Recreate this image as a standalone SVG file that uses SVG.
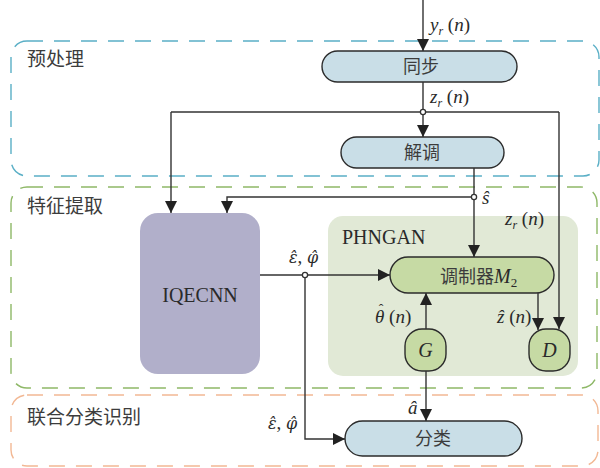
<svg xmlns="http://www.w3.org/2000/svg" width="600" height="468" viewBox="0 0 600 468">
<style>
.grp{fill:none;stroke-width:1.4;stroke-dasharray:16 11}
.cn{font-family:"Noto Sans CJK SC","Noto Sans",sans-serif;fill:#3c3c3c}
.m{font-family:"Liberation Serif","DejaVu Serif",serif;fill:#2a2a2a}
.g{font-family:"DejaVu Serif",serif}
.i{font-style:italic}
.node{stroke:#2b2b2b;stroke-width:1.4}
.blue{fill:#C9DEE7}
.green{fill:#C6DAA4}
.ln{fill:none;stroke:#333;stroke-width:1.4}
.jn{fill:#fff;stroke:#333;stroke-width:1.3}
</style>
<defs>
<marker id="ah" markerUnits="userSpaceOnUse" markerWidth="12" markerHeight="12" refX="12" refY="6" orient="auto">
<path d="M0,0 L12,6 L0,12 z" fill="#222"/>
</marker>
</defs>

<g id="stage-preprocess">
<rect class="grp" x="11" y="41" width="588" height="135" rx="16" stroke="#5AAFC6"/>
<text class="cn" x="27" y="66" font-size="19">预处理</text>
</g>
<g id="stage-feature">
<rect class="grp" x="11" y="187" width="586" height="201" rx="16" stroke="#8EB867"/>
<text class="cn" x="27" y="213" font-size="19">特征提取</text>
</g>
<g id="stage-classify">
<rect class="grp" x="11" y="395" width="587" height="71" rx="16" stroke="#F2B894"/>
<text class="cn" x="27" y="424" font-size="19">联合分类识别</text>
</g>

<g id="phngan">
<rect x="328" y="216" width="250" height="160" rx="15" fill="#E1E9D6"/>
<text class="m" x="342" y="244" font-size="20">PHNGAN</text>
</g>

<g id="node-sync">
<rect class="node blue" x="322" y="51" width="195" height="31" rx="15.5"/>
<text class="cn" x="421" y="73" font-size="18" text-anchor="middle">同步</text>
</g>
<g id="node-demod">
<rect class="node blue" x="341" y="137" width="163" height="31" rx="15.5"/>
<text class="cn" x="422" y="159" font-size="18" text-anchor="middle">解调</text>
</g>
<g id="node-iqecnn">
<rect x="140" y="213" width="120" height="161" rx="18" fill="#B1AFCA"/>
<text class="m" x="200" y="302" font-size="20" text-anchor="middle">IQECNN</text>
</g>
<g id="node-modulator">
<rect class="node green" x="390" y="257" width="164" height="36" rx="18"/>
<text x="440" y="283"><tspan class="cn" font-size="18">调制器</tspan><tspan class="m i" font-size="20">M</tspan><tspan class="m" font-size="13" dy="4">2</tspan></text>
</g>
<g id="node-g">
<rect class="node green" x="405" y="329" width="41" height="42" rx="17"/>
<text class="m i" x="425.5" y="357" font-size="20" text-anchor="middle">G</text>
</g>
<g id="node-d">
<rect class="node green" x="529" y="329" width="41" height="42" rx="17"/>
<text class="m i" x="549.5" y="357" font-size="20" text-anchor="middle">D</text>
</g>
<g id="node-classify">
<rect class="node blue" x="345" y="421" width="177" height="35" rx="17.5"/>
<text class="cn" x="433" y="445" font-size="18" text-anchor="middle">分类</text>
</g>

<g id="connectors">
<path class="ln" d="M423,0 V51" marker-end="url(#ah)"/>
<path class="ln" d="M423,82 V137" marker-end="url(#ah)"/>
<path class="ln" d="M171,112 H559"/>
<path class="ln" d="M171,112 V213" marker-end="url(#ah)"/>
<path class="ln" d="M559,112 V329" marker-end="url(#ah)"/>
<path class="ln" d="M474,168 V257" marker-end="url(#ah)"/>
<path class="ln" d="M474,197 H227 V213" marker-end="url(#ah)"/>
<path class="ln" d="M260,275 H390" marker-end="url(#ah)"/>
<path class="ln" d="M305,275 V439 H345" marker-end="url(#ah)"/>
<path class="ln" d="M426,329 V293" marker-end="url(#ah)"/>
<path class="ln" d="M538,293 V330" marker-end="url(#ah)"/>
<path class="ln" d="M426,371 V421" marker-end="url(#ah)"/>
<circle class="jn" cx="423" cy="112" r="2.6"/>
<circle class="jn" cx="474" cy="197" r="2.6"/>
<circle class="jn" cx="305" cy="275" r="2.6"/>
</g>

<g id="labels">
<text class="m" x="430" y="31" font-size="19"><tspan class="i">y</tspan><tspan class="i" font-size="12" dy="4">r</tspan><tspan dy="-4">  (</tspan><tspan class="i">n</tspan>)</text>
<text class="m" x="430" y="103" font-size="19"><tspan class="i">z</tspan><tspan class="i" font-size="12" dy="4">r</tspan><tspan dy="-4">  (</tspan><tspan class="i">n</tspan>)</text>
<text class="m i" x="482" y="204" font-size="19">s&#x302;</text>
<text class="m" x="505" y="225" font-size="19"><tspan class="i">z</tspan><tspan class="i" font-size="12" dy="4">r</tspan><tspan dy="-4">  (</tspan><tspan class="i">n</tspan>)</text>
<text class="m" x="289" y="263" font-size="19"><tspan class="i g" font-size="16">ε&#x302;</tspan>, <tspan class="i g" font-size="16">φ&#x302;</tspan></text>
<text class="m" x="375" y="323" font-size="19"><tspan class="i">θ</tspan><tspan font-size="14" dx="-5.6" dy="-9">ˆ</tspan><tspan dx="0.9" dy="9"> (</tspan><tspan class="i">n</tspan>)</text>
<text class="m" x="497" y="323" font-size="19"><tspan class="i">z&#x302;</tspan> (<tspan class="i">n</tspan>)</text>
<text class="m i" x="408" y="414" font-size="19">a&#x302;</text>
<text class="m" x="268" y="429" font-size="19"><tspan class="i g" font-size="16">ε&#x302;</tspan>, <tspan class="i g" font-size="16">φ&#x302;</tspan></text>
</g>
</svg>
